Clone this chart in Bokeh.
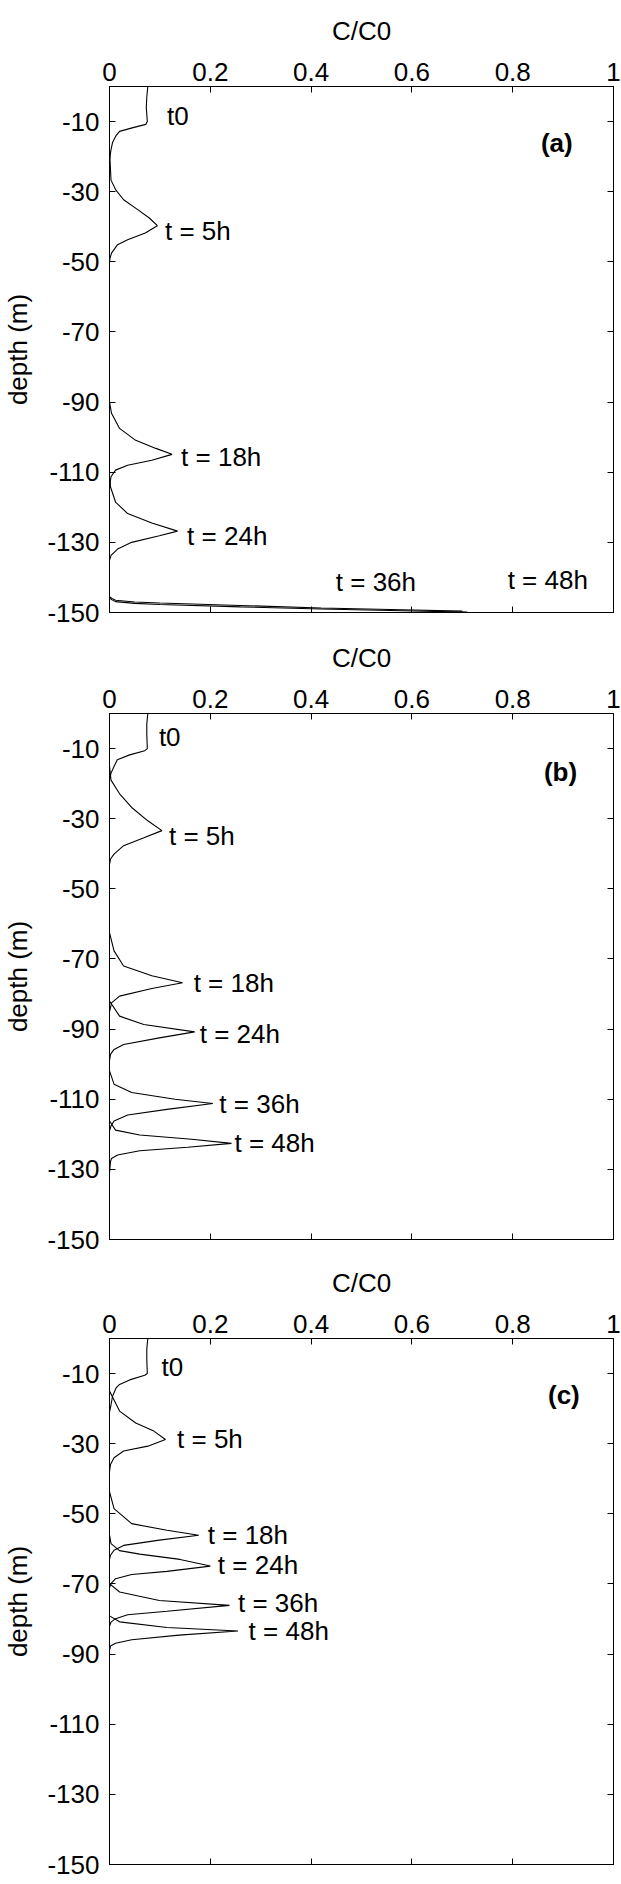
from bokeh.plotting import figure
from bokeh.models import LinearAxis, FixedTicker, Range1d
from bokeh.layouts import column
from bokeh.embed import file_html
from bokeh.resources import INLINE
from bokeh.core.properties import value

FONT = "Liberation Sans"
FS = "26px"

x_ticks = [0, 0.2, 0.4, 0.6, 0.8, 1]
x_tick_labels = ["0", "0.2", "0.4", "0.6", "0.8", "1"]
y_ticks = [-10, -30, -50, -70, -90, -110, -130, -150]
y_tick_labels = ["-10", "-30", "-50", "-70", "-90", "-110", "-130", "-150"]
x_title = "C/C0"
y_title = "depth (m)"

# ---------------- panel (a) ----------------
a_t0_c = [0.076, 0.074, 0.073, 0.075, 0.072, 0.045, 0.020, 0.013, 0.006, 0.003, 0.0]
a_t0_z = [0, -3, -6, -10, -10.8, -11.8, -12.8, -14, -16, -18, -21]
a_t5_c = [0.0, 0.003, 0.012, 0.028, 0.056, 0.079, 0.095, 0.071, 0.036, 0.016, 0.004, 0.001, 0.0]
a_t5_z = [-18, -26.7, -29.4, -32.3, -35.1, -37.5, -39.7, -41.8, -43.7, -45.1, -47.5, -49, -50]
a_t18_c = [0.0, 0.004, 0.020, 0.052, 0.092, 0.124, 0.084, 0.036, 0.012, 0.003, 0.0]
a_t18_z = [-89.9, -93.2, -97.5, -100.9, -103.2, -104.9, -106.6, -108, -109.4, -111.3, -114.2]
a_t24_c = [0.0, 0.002, 0.012, 0.036, 0.084, 0.135, 0.099, 0.044, 0.016, 0.003, 0.0]
a_t24_z = [-111.5, -114.2, -118.5, -121.8, -124.5, -126.8, -128.1, -130, -131.9, -133.7, -135.1]
a_t36_c = [0.0, 0.005, 0.012, 0.05, 0.10, 0.26, 0.42, 0.58, 0.70]
a_t36_z = [-145.5, -146.0, -146.5, -147.0, -147.3, -148.0, -148.7, -149.2, -149.6]
a_t48_c = [0.0, 0.005, 0.012, 0.05, 0.10, 0.26, 0.42, 0.58, 0.71]
a_t48_z = [-145.9, -146.4, -146.9, -147.4, -147.7, -148.4, -149.0, -149.5, -149.9]

# ---------------- panel (b) ----------------
b_t0_c = [0.076, 0.074, 0.074, 0.075, 0.070, 0.040, 0.0155, 0.009, 0.003, 0.0]
b_t0_z = [0, -3, -6, -10, -10.6, -11.8, -13.2, -15.1, -17, -19]
b_t5_c = [0.0, 0.003, 0.020, 0.044, 0.076, 0.104, 0.067, 0.028, 0.009, 0.002, 0.0]
b_t5_z = [-15, -19, -22.9, -26.8, -30.6, -33.4, -35.5, -37.7, -40.1, -41.5, -43]
b_t18_c = [0.0, 0.009, 0.028, 0.084, 0.145, 0.084, 0.020, 0.004, 0.002, 0.0]
b_t18_z = [-62.5, -67.7, -72, -74.8, -76.8, -78.4, -80.6, -82.5, -83.9, -85]
b_t24_c = [0.0, 0.020, 0.068, 0.169, 0.099, 0.028, 0.009, 0.002, 0.0]
b_t24_z = [-82, -86.3, -88.7, -90.8, -92.5, -94.4, -95.8, -97.2, -99]
b_t36_c = [0.0, 0.009, 0.044, 0.130, 0.205, 0.114, 0.036, 0.009, 0.003, 0.0]
b_t36_z = [-101.9, -105.7, -108.1, -110, -111.2, -112.9, -114.5, -116.2, -117.6, -119]
b_t48_c = [0.0, 0.012, 0.060, 0.163, 0.242, 0.155, 0.060, 0.016, 0.004, 0.002, 0.0]
b_t48_z = [-116.2, -118.8, -120.2, -121.4, -122.6, -123.7, -124.7, -125.9, -126.9, -127.8, -131]

# ---------------- panel (c) ----------------
c_t0_c = [0.076, 0.074, 0.074, 0.075, 0.070, 0.040, 0.020, 0.013, 0.006, 0.003, 0.0]
c_t0_z = [0, -3, -6, -10, -10.5, -11.8, -13.1, -14.1, -16.5, -18.9, -21]
c_t5_c = [0.0, 0.020, 0.052, 0.088, 0.111, 0.076, 0.028, 0.009, 0.002, 0.0]
c_t5_z = [-15, -20.7, -24.1, -26.4, -28.8, -30.7, -32.1, -34, -35.9, -38]
c_t18_c = [0.0, 0.009, 0.044, 0.114, 0.177, 0.099, 0.028, 0.009, 0.002, 0.0]
c_t18_z = [-43.7, -48.5, -52.8, -54.7, -56.1, -57.5, -59, -60.4, -61.8, -63]
c_t24_c = [0.0, 0.003, 0.020, 0.060, 0.140, 0.200, 0.114, 0.044, 0.012, 0.003, 0.0]
c_t24_z = [-56, -58.5, -60.5, -61.5, -63, -64.9, -66.4, -67.3, -68.5, -69.9, -71]
c_t36_c = [0.0, 0.020, 0.099, 0.238, 0.114, 0.036, 0.012, 0.003, 0.0]
c_t36_z = [-69.9, -72.3, -74.7, -76.1, -77.8, -78.8, -79.9, -80.9, -82]
c_t48_c = [0.0, 0.020, 0.114, 0.255, 0.138, 0.044, 0.012, 0.002, 0.0]
c_t48_z = [-79.1, -80.8, -82.4, -83.4, -84.6, -85.9, -86.9, -87.7, -89]

# curve labels
a_lab_text = ["t0", "t = 5h", "t = 18h", "t = 24h", "t = 36h", "t = 48h"]
a_lab_c = [0.114, 0.110, 0.142, 0.154, 0.449, 0.790]
a_lab_z = [-8.3, -41.3, -105.6, -128.3, -141.3, -140.6]
b_lab_text = ["t0", "t = 5h", "t = 18h", "t = 24h", "t = 36h", "t = 48h"]
b_lab_c = [0.098, 0.118, 0.167, 0.179, 0.218, 0.248]
b_lab_z = [-6.8, -34.9, -76.8, -91.4, -111.3, -122.5]
c_lab_text = ["t0", "t = 5h", "t = 18h", "t = 24h", "t = 36h", "t = 48h"]
c_lab_c = [0.103, 0.134, 0.195, 0.215, 0.255, 0.276]
c_lab_z = [-8.2, -28.6, -56.1, -64.7, -75.4, -83.4]

panel_tags = ["(a)", "(b)", "(c)"]
tag_c = [0.856, 0.862, 0.870]
tag_z = [-16.1, -16.8, -16.0]

panels = [
    ([(a_t0_c, a_t0_z), (a_t5_c, a_t5_z), (a_t18_c, a_t18_z), (a_t24_c, a_t24_z),
      (a_t36_c, a_t36_z), (a_t48_c, a_t48_z)], a_lab_text, a_lab_c, a_lab_z),
    ([(b_t0_c, b_t0_z), (b_t5_c, b_t5_z), (b_t18_c, b_t18_z), (b_t24_c, b_t24_z),
      (b_t36_c, b_t36_z), (b_t48_c, b_t48_z)], b_lab_text, b_lab_c, b_lab_z),
    ([(c_t0_c, c_t0_z), (c_t5_c, c_t5_z), (c_t18_c, c_t18_z), (c_t24_c, c_t24_z),
      (c_t36_c, c_t36_z), (c_t48_c, c_t48_z)], c_lab_text, c_lab_c, c_lab_z),
]
top_borders = [86, 85, 83]
bottom_borders = [16, 16, 20]


def style_axis(ax, labels=True):
    ax.axis_line_color = "black"
    ax.axis_line_width = 1
    ax.major_tick_line_color = "black"
    ax.major_tick_in = 6
    ax.major_tick_out = 0
    ax.minor_tick_line_color = None
    ax.major_label_text_font = FONT
    if labels:
        ax.major_label_text_font_size = FS
        ax.major_label_text_color = "black"
    else:
        ax.major_label_text_font_size = "0px"
        ax.major_label_text_color = None
        ax.major_label_standoff = 0


figs = []
for i, (curves, ltext, lc, lz) in enumerate(panels):
    p = figure(frame_width=504, frame_height=526,
               x_range=Range1d(0, 1), y_range=Range1d(-150, 0),
               x_axis_location="above", toolbar_location=None,
               output_backend="svg",
               min_border_left=108, min_border_right=9,
               min_border_top=top_borders[i], min_border_bottom=bottom_borders[i])
    p.grid.visible = False
    p.outline_line_color = "black"
    p.outline_line_width = 1
    p.background_fill_color = "white"
    p.border_fill_color = "white"

    xa = p.xaxis[0]
    xa.ticker = FixedTicker(ticks=x_ticks)
    xa.major_label_overrides = {t: s for t, s in zip(x_ticks, x_tick_labels)}
    style_axis(xa)
    xa.major_label_standoff = 6
    xa.axis_label = x_title
    xa.axis_label_text_font = FONT
    xa.axis_label_text_font_size = FS
    xa.axis_label_text_font_style = "normal"
    xa.axis_label_text_color = "black"
    xa.axis_label_standoff = 14

    ya = p.yaxis[0]
    ya.ticker = FixedTicker(ticks=y_ticks)
    ya.major_label_overrides = {t: s for t, s in zip(y_ticks, y_tick_labels)}
    style_axis(ya)
    ya.major_label_standoff = 10
    ya.axis_label = y_title
    ya.axis_label_text_font = FONT
    ya.axis_label_text_font_size = FS
    ya.axis_label_text_font_style = "normal"
    ya.axis_label_text_color = "black"
    ya.axis_label_standoff = 11

    xb = LinearAxis(ticker=FixedTicker(ticks=x_ticks))
    style_axis(xb, labels=False)
    p.add_layout(xb, "below")
    yr = LinearAxis(ticker=FixedTicker(ticks=y_ticks))
    style_axis(yr, labels=False)
    p.add_layout(yr, "right")

    for cx, cz in curves:
        p.line(cx, cz, line_color="black", line_width=1.1)

    p.text(lc, lz, text=ltext, text_font=value(FONT), text_font_size=FS,
           text_align="left", text_baseline="middle", text_color="black")
    p.text([tag_c[i]], [tag_z[i]], text=[panel_tags[i]], text_font=value(FONT),
           text_font_size=FS, text_font_style="bold",
           text_align="left", text_baseline="middle", text_color="black")
    figs.append(p)

layout = column(*figs, spacing=0)
open("out.html", "w").write(file_html(layout, INLINE))
